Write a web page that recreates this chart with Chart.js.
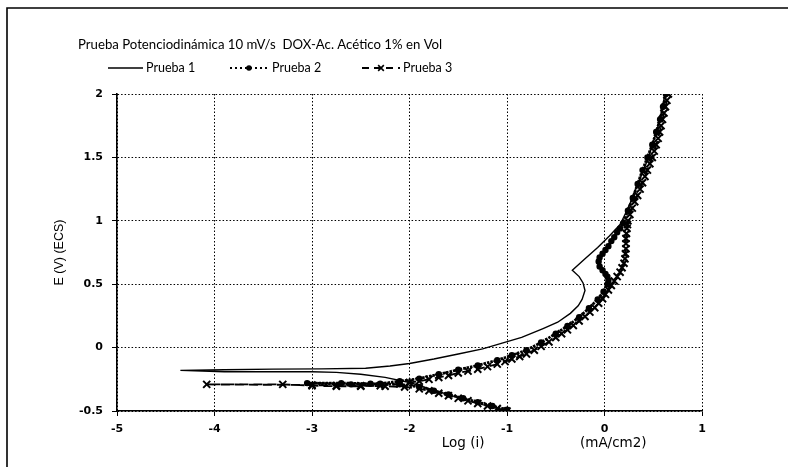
<!DOCTYPE html>
<html>
<head>
<meta charset="utf-8">
<script src="https://cdn.jsdelivr.net/npm/chart.js@4/dist/chart.umd.min.js"></script>
<style>
  html, body { margin: 0; padding: 0; background: #fff; }
  canvas { display: block; }
</style>
</head>
<body>
<canvas id="polarizacion" width="788" height="467"></canvas>
<script>
// Potentiodynamic polarization curves, 10 mV/s, DOX in 1 % acetic acid.
// x: log of current density (mA/cm2), y: potential E (V) vs ECS.

const TITLE = 'Prueba Potenciodinámica 10 mV/s  DOX-Ac. Acético 1% en Vol';
const SERIES_NAMES = ['Prueba 1', 'Prueba 2', 'Prueba 3'];
const X_TICKS = [-5, -4, -3, -2, -1, 0, 1];
const Y_TICKS = [-0.5, 0, 0.5, 1, 1.5, 2];

// Prueba 1: cathodic branch down to Ecorr, then the anodic branch with the
// active-passive nose near 0.6 V.
const prueba1Log = [
  -1.00, -1.25, -1.50, -1.75, -2.00, -2.25, -2.50, -2.75, -3.00, -3.50, -3.90, -4.35,
  -3.90, -3.40, -2.90, -2.45, -2.20, -2.00, -1.75, -1.50, -1.25, -1.05, -0.85, -0.63,
  -0.48, -0.35, -0.27, -0.23, -0.20, -0.22, -0.26, -0.33, -0.20, -0.07, 0.05, 0.16,
  0.21, 0.27, 0.33, 0.39, 0.45, 0.50, 0.55, 0.59, 0.62
];
const prueba1E = [
  -0.50, -0.45, -0.395, -0.335, -0.275, -0.235, -0.21, -0.195, -0.19, -0.19, -0.19, -0.18,
  -0.175, -0.17, -0.168, -0.163, -0.145, -0.125, -0.09, -0.05, -0.01, 0.035, 0.08, 0.15,
  0.20, 0.27, 0.33, 0.38, 0.45, 0.51, 0.56, 0.61, 0.70, 0.79, 0.88, 0.97,
  1.05, 1.15, 1.27, 1.38, 1.50, 1.62, 1.75, 1.87, 2.00
];

// Prueba 2: second nose around 0.7 V, just left of Prueba 3.
const prueba2Log = [
  -1.00, -1.15, -1.30, -1.45, -1.60, -1.75, -1.90, -2.10, -2.40, -2.70, -3.05,
  -2.60, -2.30, -2.10, -1.90, -1.70, -1.50, -1.30, -1.10, -0.95, -0.80, -0.65,
  -0.50, -0.38, -0.26, -0.16, -0.07, -0.01, 0.03, 0.04, 0.03, 0.01, -0.02, -0.05,
  -0.06, -0.05, -0.02, 0.01, 0.04, 0.07, 0.10, 0.13, 0.16, 0.19,
  0.24, 0.29, 0.34, 0.39, 0.44, 0.49, 0.53, 0.57, 0.60, 0.63
];
const prueba2E = [
  -0.49, -0.46, -0.43, -0.40, -0.37, -0.34, -0.31, -0.29, -0.285, -0.28, -0.28,
  -0.29, -0.285, -0.265, -0.245, -0.21, -0.175, -0.14, -0.10, -0.06, -0.02, 0.04,
  0.11, 0.17, 0.24, 0.31, 0.38, 0.44, 0.50, 0.53, 0.56, 0.58, 0.61, 0.64,
  0.68, 0.71, 0.74, 0.77, 0.80, 0.84, 0.87, 0.91, 0.94, 0.98,
  1.08, 1.18, 1.29, 1.40, 1.50, 1.60, 1.70, 1.80, 1.90, 2.00
];

// Prueba 3: Ecorr furthest left (-4.08), near-vertical rise at log i ~ 0.22.
const prueba3Log = [
  -1.00, -1.10, -1.20, -1.30, -1.40, -1.50, -1.60, -1.70, -1.80, -1.90, -2.05, -2.25,
  -2.50, -2.75, -3.00, -4.08, -3.30, -3.00, -2.75, -2.50, -2.30,
  -2.10, -2.00, -1.90, -1.80, -1.70, -1.60, -1.50, -1.40, -1.30, -1.20, -1.10, -1.02,
  -0.95, -0.87, -0.80, -0.72, -0.65, -0.57, -0.50, -0.44, -0.38, -0.32, -0.26, -0.20,
  -0.15, -0.10, -0.06, -0.02, 0.01, 0.04, 0.07, 0.10, 0.13, 0.16, 0.18, 0.20,
  0.21, 0.215, 0.22, 0.22, 0.22, 0.225, 0.23, 0.235,
  0.24, 0.26, 0.285, 0.31, 0.34, 0.365, 0.39, 0.415, 0.44, 0.465, 0.49,
  0.51, 0.53, 0.55, 0.565, 0.58, 0.595, 0.61, 0.625, 0.64, 0.655
];
const prueba3E = [
  -0.50, -0.48, -0.46, -0.44, -0.42, -0.40, -0.38, -0.36, -0.34, -0.325, -0.31, -0.305,
  -0.30, -0.30, -0.295, -0.29, -0.29, -0.30, -0.305, -0.305, -0.30,
  -0.285, -0.275, -0.265, -0.25, -0.235, -0.22, -0.20, -0.185, -0.17, -0.15, -0.13, -0.11,
  -0.09, -0.07, -0.05, -0.02, 0.01, 0.045, 0.08, 0.11, 0.14, 0.175, 0.21, 0.245,
  0.28, 0.315, 0.35, 0.385, 0.42, 0.455, 0.49, 0.525, 0.56, 0.595, 0.63, 0.665,
  0.70, 0.74, 0.78, 0.82, 0.86, 0.90, 0.94, 0.97,
  1.00, 1.05, 1.10, 1.15, 1.20, 1.25, 1.30, 1.35, 1.40, 1.45, 1.50,
  1.55, 1.60, 1.65, 1.70, 1.75, 1.80, 1.85, 1.90, 1.95, 2.00
];

const toPoints = (xs, ys) => xs.map((x, i) => ({ x, y: ys[i] }));

// Line dash on the curves and in the legend key (the legend keeps the
// open dotted/dashed look of the series symbols).
const STYLES = [
  { dash: [], key: [], width: 1.4, point: false, radius: 0 },
  { dash: [2.5, 1], key: [2, 3], width: 2.8, point: 'circle', radius: 2.2 },
  { dash: [9, 5], key: [7, 5], width: 1.9, point: 'crossRot', radius: 5 }
];

const datasets = [
  toPoints(prueba1Log, prueba1E),
  toPoints(prueba2Log, prueba2E),
  toPoints(prueba3Log, prueba3E)
].map((data, i) => ({
  label: SERIES_NAMES[i],
  data,
  borderColor: '#000',
  backgroundColor: '#000',
  pointBorderColor: '#000',
  pointBackgroundColor: '#000',
  pointBorderWidth: 2,
  borderDash: STYLES[i].dash,
  borderWidth: STYLES[i].width,
  pointStyle: STYLES[i].point,
  pointRadius: STYLES[i].radius,
  showLine: true,
  fill: false,
  tension: 0
}));

const CASUAL = '"Lato", "DejaVu Sans", sans-serif';
const TICK_FONT = { family: '"DejaVu Sans", sans-serif', size: 11, weight: 'bold' };

// Outer frame, title, hand-placed legend and the two x-axis captions.
const decorPlugin = {
  id: 'decor',
  beforeDraw(chart) {
    const ctx = chart.ctx;
    ctx.save();
    ctx.strokeStyle = '#000';
    ctx.lineWidth = 1.6;
    ctx.beginPath();
    ctx.moveTo(7, chart.height);
    ctx.lineTo(7, 8);
    ctx.lineTo(chart.width, 8);
    ctx.stroke();
    ctx.restore();
  },
  afterDraw(chart) {
    const ctx = chart.ctx;
    ctx.save();
    ctx.fillStyle = '#000';
    ctx.textBaseline = 'middle';
    ctx.textAlign = 'left';
    ctx.font = '13.2px ' + CASUAL;
    ctx.fillText(TITLE, 78, 45);

    // legend entries
    const entries = [
      { x0: 108, x1: 143, tx: 146 },
      { x0: 230, x1: 268, tx: 272 },
      { x0: 362, x1: 400, tx: 403 }
    ];
    const ly = 68;
    entries.forEach((e, i) => {
      const ds = chart.data.datasets[i];
      ctx.save();
      ctx.strokeStyle = '#000';
      ctx.lineWidth = i === 1 ? 1.8 : ds.borderWidth;
      ctx.setLineDash(STYLES[i].key);
      ctx.beginPath();
      ctx.moveTo(e.x0, ly);
      ctx.lineTo(e.x1, ly);
      ctx.stroke();
      ctx.setLineDash([]);
      if (ds.pointStyle) {
        ctx.lineWidth = 1.6;
        Chart.helpers.drawPoint(ctx, {
          pointStyle: ds.pointStyle,
          radius: ds.pointStyle === 'circle' ? 2 : 4,
          rotation: 0,
          borderWidth: 1.6
        }, (e.x0 + e.x1) / 2, ly);
      }
      ctx.restore();
      ctx.font = '12.5px ' + CASUAL;
      ctx.fillText(ds.label, e.tx, ly);
    });

    // x-axis captions placed on the log scale
    const xs = chart.scales.x;
    ctx.textAlign = 'center';
    ctx.font = '13.5px "DejaVu Sans", sans-serif';
    ctx.fillText('Log (i)', xs.getPixelForValue(-1.45), 443);
    ctx.fillText('(mA/cm2)', xs.getPixelForValue(0.09), 443);
    ctx.restore();
  }
};

const tickLabel = (value) => String(value);

new Chart(document.getElementById('polarizacion'), {
  type: 'scatter',
  data: { datasets },
  options: {
    responsive: false,
    animation: false,
    devicePixelRatio: 1,
    layout: { padding: { left: 0, top: 94, right: 86, bottom: 0 } },
    plugins: {
      legend: { display: false },
      tooltip: { enabled: false },
      title: { display: false }
    },
    scales: {
      x: {
        type: 'linear',
        min: X_TICKS[0],
        max: X_TICKS[X_TICKS.length - 1],
        afterFit(scale) { scale.height = 56; },
        afterBuildTicks(scale) { scale.ticks = X_TICKS.map((v) => ({ value: v })); },
        ticks: { padding: 7, color: '#000', font: TICK_FONT, callback: tickLabel },
        grid: { color: '#000', lineWidth: 1, tickLength: 5 },
        border: { display: true, color: '#000', width: 1.6, dash: [1.5, 2] }
      },
      y: {
        type: 'linear',
        min: Y_TICKS[0],
        max: Y_TICKS[Y_TICKS.length - 1],
        afterFit(scale) { scale.width = 117; },
        afterBuildTicks(scale) { scale.ticks = Y_TICKS.map((v) => ({ value: v })); },
        ticks: { padding: 9, color: '#000', font: TICK_FONT, callback: tickLabel },
        grid: { color: '#000', lineWidth: 1, tickLength: 5 },
        border: { display: true, color: '#000', width: 1.6, dash: [1.5, 2] },
        title: {
          display: true,
          text: 'E (V) (ECS)',
          color: '#000',
          padding: { top: 52, bottom: 0 },
          font: { family: '"Liberation Sans", Arial, sans-serif', size: 12.5 }
        }
      }
    }
  },
  plugins: [decorPlugin]
});
</script>
</body>
</html>
